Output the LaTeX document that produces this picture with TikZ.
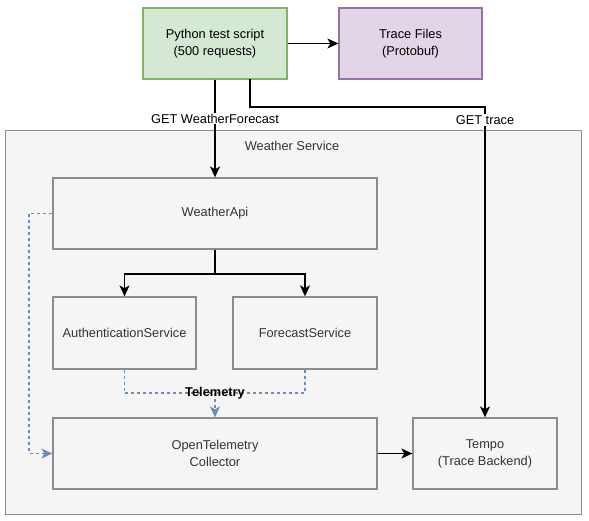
\documentclass[tikz,border=0pt]{standalone}
\usepackage{fontspec}
\setmainfont{Liberation Sans}
\usetikzlibrary{arrows.meta}
\definecolor{greenfill}{HTML}{D5E8D4}
\definecolor{greenline}{HTML}{82B366}
\definecolor{purplefill}{HTML}{E1D5E7}
\definecolor{purpleline}{HTML}{9673A6}
\definecolor{grayfill}{HTML}{F5F5F5}
\definecolor{grayline}{HTML}{8C8C8C}
\definecolor{textgray}{HTML}{333333}
\definecolor{bluedash}{HTML}{6C8EBF}
\tikzset{
  box/.style={draw=grayline, fill=grayfill, line width=1.3pt, text=textgray, align=center, font=\fontsize{12.8}{17}\selectfont, inner sep=0pt},
  conn/.style={draw=black, line width=1.2pt, -{Stealth[length=11pt,width=10pt,inset=3pt]}},
  plainconn/.style={draw=black, line width=1.2pt},
  telem/.style={draw=bluedash, line width=1.1pt, dash pattern=on 3pt off 3pt},
  telemarrow/.style={telem, -{Stealth[length=11pt,width=10pt,inset=3pt,fill=bluedash]}},
  lbl/.style={font=\fontsize{12.8}{15}\selectfont, inner sep=1pt}
}
\begin{document}
\begin{tikzpicture}[x=1pt,y=-1pt]
\useasboundingbox (0,0) rectangle (589,521);
% container
\node[box, draw=grayline, minimum width=576pt, minimum height=384pt, anchor=north west] (ws) at (5,130) {};
\node[text=textgray, font=\fontsize{12.8}{15}\selectfont] (wslbl) at (292,146) {Weather Service};
% top boxes
\node[box, fill=greenfill, draw=greenline, minimum width=144pt, minimum height=71pt, text=black] (py) at (215,43.5) {Python test script\\(500 requests)};
\node[box, fill=purplefill, draw=purpleline, minimum width=143pt, minimum height=71pt, text=black] (tf) at (410.5,43.5) {Trace Files\\(Protobuf)};
% inner boxes
\node[box, minimum width=324pt, minimum height=71pt] (api) at (215,213.5) {WeatherApi};
\node[box, minimum width=143pt, minimum height=72pt] (auth) at (124.5,333) {AuthenticationService};
\node[box, minimum width=144pt, minimum height=72pt] (fc) at (305,333) {ForecastService};
\node[box, minimum width=324pt, minimum height=71pt] (col) at (215,453.5) {OpenTelemetry\\Collector};
\node[box, minimum width=144pt, minimum height=71pt] (tempo) at (485,453.5) {Tempo\\(Trace Backend)};
% coordinates
\coordinate (pyGT) at (250,79);
\coordinate (bendA) at (250,107);
\coordinate (bendB) at (485,107);
\coordinate (split) at (215,274);
% connectors
\draw[conn] (py.east) -- (tf.west);
\draw[conn] (py.south) -- (api.north) node[pos=0.4, lbl, fill=white] (lblget) {GET WeatherForecast};
\draw[conn] (pyGT) -- (bendA) -- (bendB) -- (tempo.north);
\node[lbl, fill=white] (lbltrace) at (485,120) {GET trace};
\draw[plainconn] (api.south) -- (split);
\draw[conn] (split) -| (auth.north);
\draw[conn] (split) -| (fc.north);
\draw[conn] (col.east) -- (tempo.west);
% telemetry
\coordinate (tm) at (215,393);
\draw[telem] (auth.south) |- (tm);
\draw[telem] (fc.south) |- (tm);
\draw[telemarrow] (tm) -- (col.north);
\node[font=\bfseries\fontsize{12.8}{15}\selectfont, inner sep=0pt] (lbltel) at (215,393) {Telemetry};
\draw[telemarrow] (api.west) -- (29,213.5) -- (29,453.5) -- (col.west);
\end{tikzpicture}
\end{document}
